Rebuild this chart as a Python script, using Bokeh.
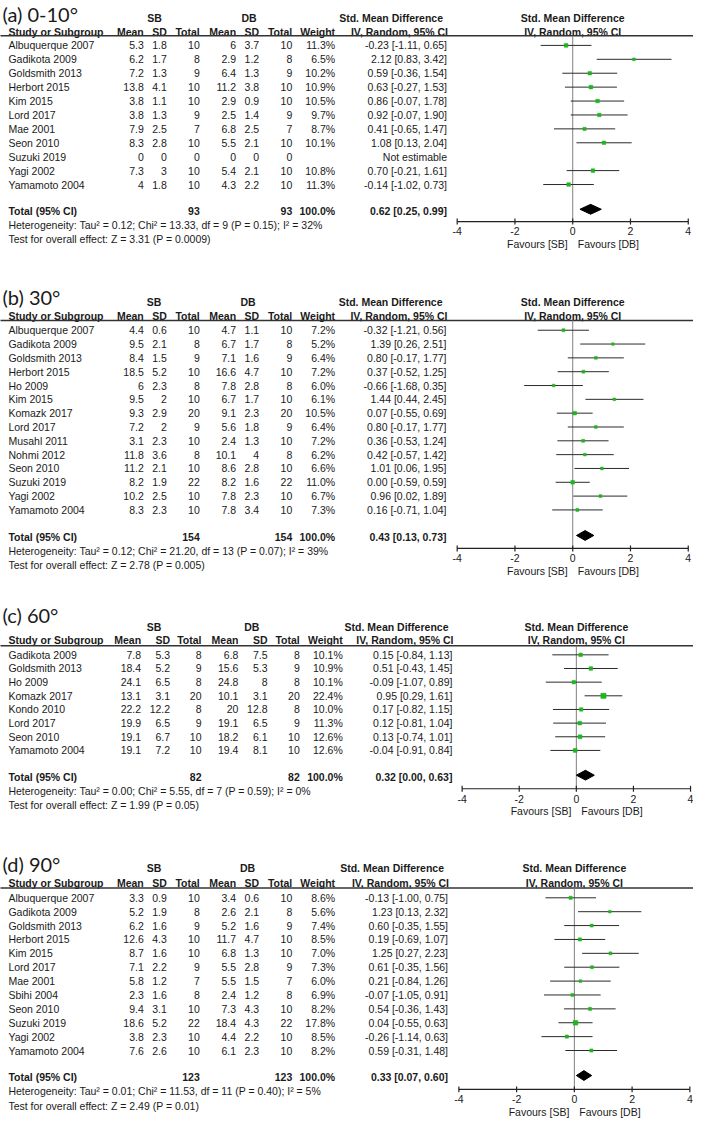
from bokeh.plotting import figure
from bokeh.models import Range1d
from bokeh.core.properties import value
from bokeh.embed import file_html
from bokeh.resources import INLINE

# ---------------- data ----------------
# (a) 0-10 degrees
a_study = ["Albuquerque 2007", "Gadikota 2009", "Goldsmith 2013", "Herbort 2015", "Kim 2015",
           "Lord 2017", "Mae 2001", "Seon 2010", "Suzuki 2019", "Yagi 2002", "Yamamoto 2004"]
a_sb_mean = [5.3, 6.2, 7.2, 13.8, 3.8, 3.8, 7.9, 8.3, 0, 7.3, 4]
a_sb_sd = [1.8, 1.7, 1.3, 4.1, 1.1, 1.3, 2.5, 2.8, 0, 3, 1.8]
a_sb_n = [10, 8, 9, 10, 10, 9, 7, 10, 0, 10, 10]
a_db_mean = [6, 2.9, 6.4, 11.2, 2.9, 2.5, 6.8, 5.5, 0, 5.4, 4.3]
a_db_sd = [3.7, 1.2, 1.3, 3.8, 0.9, 1.4, 2.5, 2.1, 0, 2.1, 2.2]
a_db_n = [10, 8, 9, 10, 10, 9, 7, 10, 0, 10, 10]
a_weight = [11.3, 6.5, 10.2, 10.9, 10.5, 9.7, 8.7, 10.1, None, 10.8, 11.3]
a_smd = [-0.23, 2.12, 0.59, 0.63, 0.86, 0.92, 0.41, 1.08, None, 0.70, -0.14]
a_lo = [-1.11, 0.83, -0.36, -0.27, -0.07, -0.07, -0.65, 0.13, None, -0.21, -1.02]
a_hi = [0.65, 3.42, 1.54, 1.53, 1.78, 1.90, 1.47, 2.04, None, 1.61, 0.73]
a_total = [93, 93, 0.62, 0.25, 0.99]
a_het = "Heterogeneity: Tau² = 0.12; Chi² = 13.33, df = 9 (P = 0.15); I² = 32%"
a_test = "Test for overall effect: Z = 3.31 (P = 0.0009)"

# (b) 30 degrees
b_study = ["Albuquerque 2007", "Gadikota 2009", "Goldsmith 2013", "Herbort 2015", "Ho 2009",
           "Kim 2015", "Komazk 2017", "Lord 2017", "Musahl 2011", "Nohmi 2012", "Seon 2010",
           "Suzuki 2019", "Yagi 2002", "Yamamoto 2004"]
b_sb_mean = [4.4, 9.5, 8.4, 18.5, 6, 9.5, 9.3, 7.2, 3.1, 11.8, 11.2, 8.2, 10.2, 8.3]
b_sb_sd = [0.6, 2.1, 1.5, 5.2, 2.3, 2, 2.9, 2, 2.3, 3.6, 2.1, 1.9, 2.5, 2.3]
b_sb_n = [10, 8, 9, 10, 8, 10, 20, 9, 10, 8, 10, 22, 10, 10]
b_db_mean = [4.7, 6.7, 7.1, 16.6, 7.8, 6.7, 9.1, 5.6, 2.4, 10.1, 8.6, 8.2, 7.8, 7.8]
b_db_sd = [1.1, 1.7, 1.6, 4.7, 2.8, 1.7, 2.3, 1.8, 1.3, 4, 2.8, 1.6, 2.3, 3.4]
b_db_n = [10, 8, 9, 10, 8, 10, 20, 9, 10, 8, 10, 22, 10, 10]
b_weight = [7.2, 5.2, 6.4, 7.2, 6.0, 6.1, 10.5, 6.4, 7.2, 6.2, 6.6, 11.0, 6.7, 7.3]
b_smd = [-0.32, 1.39, 0.80, 0.37, -0.66, 1.44, 0.07, 0.80, 0.36, 0.42, 1.01, 0.00, 0.96, 0.16]
b_lo = [-1.21, 0.26, -0.17, -0.52, -1.68, 0.44, -0.55, -0.17, -0.53, -0.57, 0.06, -0.59, 0.02, -0.71]
b_hi = [0.56, 2.51, 1.77, 1.25, 0.35, 2.45, 0.69, 1.77, 1.24, 1.42, 1.95, 0.59, 1.89, 1.04]
b_total = [154, 154, 0.43, 0.13, 0.73]
b_het = "Heterogeneity: Tau² = 0.12; Chi² = 21.20, df = 13 (P = 0.07); I² = 39%"
b_test = "Test for overall effect: Z = 2.78 (P = 0.005)"

# (c) 60 degrees
c_study = ["Gadikota 2009", "Goldsmith 2013", "Ho 2009", "Komazk 2017", "Kondo 2010",
           "Lord 2017", "Seon 2010", "Yamamoto 2004"]
c_sb_mean = [7.8, 18.4, 24.1, 13.1, 22.2, 19.9, 19.1, 19.1]
c_sb_sd = [5.3, 5.2, 6.5, 3.1, 12.2, 6.5, 6.7, 7.2]
c_sb_n = [8, 9, 8, 20, 8, 9, 10, 10]
c_db_mean = [6.8, 15.6, 24.8, 10.1, 20, 19.1, 18.2, 19.4]
c_db_sd = [7.5, 5.3, 8, 3.1, 12.8, 6.5, 6.1, 8.1]
c_db_n = [8, 9, 8, 20, 8, 9, 10, 10]
c_weight = [10.1, 10.9, 10.1, 22.4, 10.0, 11.3, 12.6, 12.6]
c_smd = [0.15, 0.51, -0.09, 0.95, 0.17, 0.12, 0.13, -0.04]
c_lo = [-0.84, -0.43, -1.07, 0.29, -0.82, -0.81, -0.74, -0.91]
c_hi = [1.13, 1.45, 0.89, 1.61, 1.15, 1.04, 1.01, 0.84]
c_total = [82, 82, 0.32, 0.00, 0.63]
c_het = "Heterogeneity: Tau² = 0.00; Chi² = 5.55, df = 7 (P = 0.59); I² = 0%"
c_test = "Test for overall effect: Z = 1.99 (P = 0.05)"

# (d) 90 degrees
d_study = ["Albuquerque 2007", "Gadikota 2009", "Goldsmith 2013", "Herbort 2015", "Kim 2015",
           "Lord 2017", "Mae 2001", "Sbihi 2004", "Seon 2010", "Suzuki 2019", "Yagi 2002",
           "Yamamoto 2004"]
d_sb_mean = [3.3, 5.2, 6.2, 12.6, 8.7, 7.1, 5.8, 2.3, 9.4, 18.6, 3.8, 7.6]
d_sb_sd = [0.9, 1.9, 1.6, 4.3, 1.6, 2.2, 1.2, 1.6, 3.1, 5.2, 2.3, 2.6]
d_sb_n = [10, 8, 9, 10, 10, 9, 7, 8, 10, 22, 10, 10]
d_db_mean = [3.4, 2.6, 5.2, 11.7, 6.8, 5.5, 5.5, 2.4, 7.3, 18.4, 4.4, 6.1]
d_db_sd = [0.6, 2.1, 1.6, 4.7, 1.3, 2.8, 1.5, 1.2, 4.3, 4.3, 2.2, 2.3]
d_db_n = [10, 8, 9, 10, 10, 9, 7, 8, 10, 22, 10, 10]
d_weight = [8.6, 5.6, 7.4, 8.5, 7.0, 7.3, 6.0, 6.9, 8.2, 17.8, 8.5, 8.2]
d_smd = [-0.13, 1.23, 0.60, 0.19, 1.25, 0.61, 0.21, -0.07, 0.54, 0.04, -0.26, 0.59]
d_lo = [-1.00, 0.13, -0.35, -0.69, 0.27, -0.35, -0.84, -1.05, -0.36, -0.55, -1.14, -0.31]
d_hi = [0.75, 2.32, 1.55, 1.07, 2.23, 1.56, 1.26, 0.91, 1.43, 0.63, 0.63, 1.48]
d_total = [123, 123, 0.33, 0.07, 0.60]
d_het = "Heterogeneity: Tau² = 0.01; Chi² = 11.53, df = 11 (P = 0.40); I² = 5%"
d_test = "Test for overall effect: Z = 2.49 (P = 0.01)"

tick_vals = [-4, -2, 0, 2, 4]
tick_labels = ["-4", "-2", "0", "2", "4"]
col_headers = ["Mean", "SD", "Total", "Mean", "SD", "Total", "Weight"]

# ---------------- layout ----------------
FONT = value("Liberation Sans")
TFONT = value("Lato")
FS = "10.5px"
TXT = "#1a1a1a"
GREEN = "#1fb51f"
X0, X1 = 2, 702

COLS = [146.7, 170, 203.3, 240, 263.3, 296.7, 340]
COLS_C = [144, 173.3, 205, 242.3, 271.7, 304.3, 347.7]

panels = [
    dict(key="a", title="(a) 0-10°", study=a_study, sbm=a_sb_mean, sbs=a_sb_sd, sbn=a_sb_n,
         dbm=a_db_mean, dbs=a_db_sd, dbn=a_db_n, w=a_weight, smd=a_smd, lo=a_lo, hi=a_hi,
         tot=a_total, het=a_het, test=a_test,
         ty=13.5, h1=18, h2=32, ly=36, r0=45.7, dy=14.16, toty=214, axy=225,
         cols=COLS, cir=453, sbc=157.5, dbc=253, L=463.3, R=696.7),
    dict(key="b", title="(b) 30°", study=b_study, sbm=b_sb_mean, sbs=b_sb_sd, sbn=b_sb_n,
         dbm=b_db_mean, dbs=b_db_sd, dbn=b_db_n, w=b_weight, smd=b_smd, lo=b_lo, hi=b_hi,
         tot=b_total, het=b_het, test=b_test,
         ty=301.5, h1=306.7, h2=320.7, ly=325.7, r0=335.6, dy=14.07, toty=546, axy=557.7,
         cols=COLS, cir=452.5, sbc=157, dbc=252, L=463.3, R=696.7),
    dict(key="c", title="(c) 60°", study=c_study, sbm=c_sb_mean, sbs=c_sb_sd, sbn=c_sb_n,
         dbm=c_db_mean, dbs=c_db_sd, dbn=c_db_n, w=c_weight, smd=c_smd, lo=c_lo, hi=c_hi,
         tot=c_total, het=c_het, test=c_test,
         ty=625.5, h1=637.7, h2=651, ly=656.7, r0=666, dy=13.9, toty=790, axy=802.3,
         cols=COLS_C, cir=458.5, sbc=157, dbc=255.8, L=468.3, R=699),
    dict(key="d", title="(d) 90°", study=d_study, sbm=d_sb_mean, sbs=d_sb_sd, sbn=d_sb_n,
         dbm=d_db_mean, dbs=d_db_sd, dbn=d_db_n, w=d_weight, smd=d_smd, lo=d_lo, hi=d_hi,
         tot=d_total, het=d_het, test=d_test,
         ty=879, h1=883, h2=898, ly=903.3, r0=913.3, dy=14.13, toty=1095.7, axy=1108.3,
         cols=COLS, cir=454, sbc=157, dbc=251.5, L=465, R=698.3),
]

p = figure(width=693, height=1122, x_range=Range1d(X0, X1), y_range=Range1d(1142, 0),
           output_backend="svg", toolbar_location=None, x_axis_type=None, y_axis_type=None,
           min_border=0)
p.grid.visible = False
p.outline_line_color = None
p.background_fill_color = "white"
p.border_fill_color = "white"

extra = {}
for pn in panels:
    k = 8.0 / (pn["R"] - pn["L"])
    extra[pn["key"]] = Range1d(-4 + (X0 - pn["L"]) * k, -4 + (X1 - pn["L"]) * k)
p.extra_x_ranges = extra


def txt(xs, ys, texts, align="left", bold=False, size=FS, font=FONT, rng="default", xoff=0):
    p.text(x=xs, y=ys, text=texts, text_align=align, text_baseline="middle",
           text_font=font, text_font_size=size, text_font_style="bold" if bold else "normal",
           text_color=TXT, x_offset=xoff, x_range_name=rng)


def g(v):
    return f"{v:g}"


for pn in panels:
    key = pn["key"]
    cols = pn["cols"]
    n = len(pn["study"])
    ys = [pn["r0"] + i * pn["dy"] for i in range(n)]

    # title
    txt([4], [pn["ty"]], [pn["title"]], size="20px", font=TFONT)
    # header line 1
    txt([pn["sbc"], pn["dbc"]], [pn["h1"]] * 2, ["SB", "DB"], align="center", bold=True)
    txt([pn["cir"] - 4], [pn["h1"]], ["Std. Mean Difference"], align="right", bold=True)
    txt([0], [pn["h1"]], ["Std. Mean Difference"], align="center", bold=True, rng=key)
    # header line 2
    txt([10], [pn["h2"]], ["Study or Subgroup"], bold=True)
    txt(cols, [pn["h2"]] * 7, col_headers, align="right", bold=True)
    txt([pn["cir"] + 1], [pn["h2"]], ["IV, Random, 95% CI"], align="right", bold=True)
    txt([0], [pn["h2"]], ["IV, Random, 95% CI"], align="center", bold=True, rng=key)
    # header rule
    p.segment(x0=[0], x1=[712], y0=[pn["ly"]], y1=[pn["ly"]], line_color="#333333", line_width=1.5)

    # rows
    txt([10] * n, ys, pn["study"])
    for ci, arr in enumerate([pn["sbm"], pn["sbs"], pn["sbn"], pn["dbm"], pn["dbs"], pn["dbn"]]):
        txt([cols[ci]] * n, ys, [g(v) for v in arr], align="right")
    txt([cols[6]] * n, ys, ["" if w is None else f"{w:.1f}%" for w in pn["w"]], align="right")
    ci_txt = ["Not estimable" if s is None else f"{s:.2f} [{l:.2f}, {h:.2f}]"
              for s, l, h in zip(pn["smd"], pn["lo"], pn["hi"])]
    txt([pn["cir"]] * n, ys, ci_txt, align="right")

    # total row
    ty = pn["toty"]
    tsb, tdb, tsmd, tlo, thi = pn["tot"]
    txt([10], [ty], ["Total (95% CI)"], bold=True)
    txt([cols[2], cols[5], cols[6]], [ty] * 3, [g(tsb), g(tdb), "100.0%"], align="right", bold=True)
    txt([pn["cir"]], [ty], [f"{tsmd:.2f} [{tlo:.2f}, {thi:.2f}]"], align="right", bold=True)
    txt([10], [ty + 14.7], [pn["het"]])
    txt([10], [ty + 29], [pn["test"]])

    # zero line
    p.segment(x0=[0], x1=[0], y0=[pn["ly"]], y1=[pn["axy"]], line_color="#808080",
              line_width=1, x_range_name=key)

    # CIs and squares
    idx = [i for i in range(n) if pn["smd"][i] is not None]
    p.segment(x0=[pn["lo"][i] for i in idx], x1=[pn["hi"][i] for i in idx],
              y0=[ys[i] for i in idx], y1=[ys[i] for i in idx],
              line_color="#2b2b2b", line_width=1, x_range_name=key)
    p.scatter(x=[pn["smd"][i] for i in idx], y=[ys[i] for i in idx],
              size=[1.1 * pn["w"][i] ** 0.5 for i in idx], marker="square",
              fill_color=GREEN, line_color=GREEN, line_width=0.5, x_range_name=key)

    # diamond
    dc = ty - 1.5
    p.patch(x=[tlo, tsmd, thi, tsmd], y=[dc, dc - 5, dc, dc + 5], fill_color="black",
            line_color="black", x_range_name=key)

    # axis
    ay = pn["axy"]
    p.segment(x0=[tick_vals[0]], x1=[tick_vals[-1]], y0=[ay], y1=[ay], line_color="#222222",
              line_width=1.2, x_range_name=key)
    p.segment(x0=tick_vals, x1=tick_vals, y0=[ay - 3] * 5, y1=[ay + 3] * 5,
              line_color="#222222", line_width=1.2, x_range_name=key)
    txt(tick_vals, [ay + 10] * 5, tick_labels, align="center", rng=key)
    txt([0], [ay + 23], ["Favours [SB]"], align="right", rng=key, xoff=-5)
    txt([0], [ay + 23], ["Favours [DB]"], align="left", rng=key, xoff=5)

open("out.html", "w").write(file_html(p, INLINE))
